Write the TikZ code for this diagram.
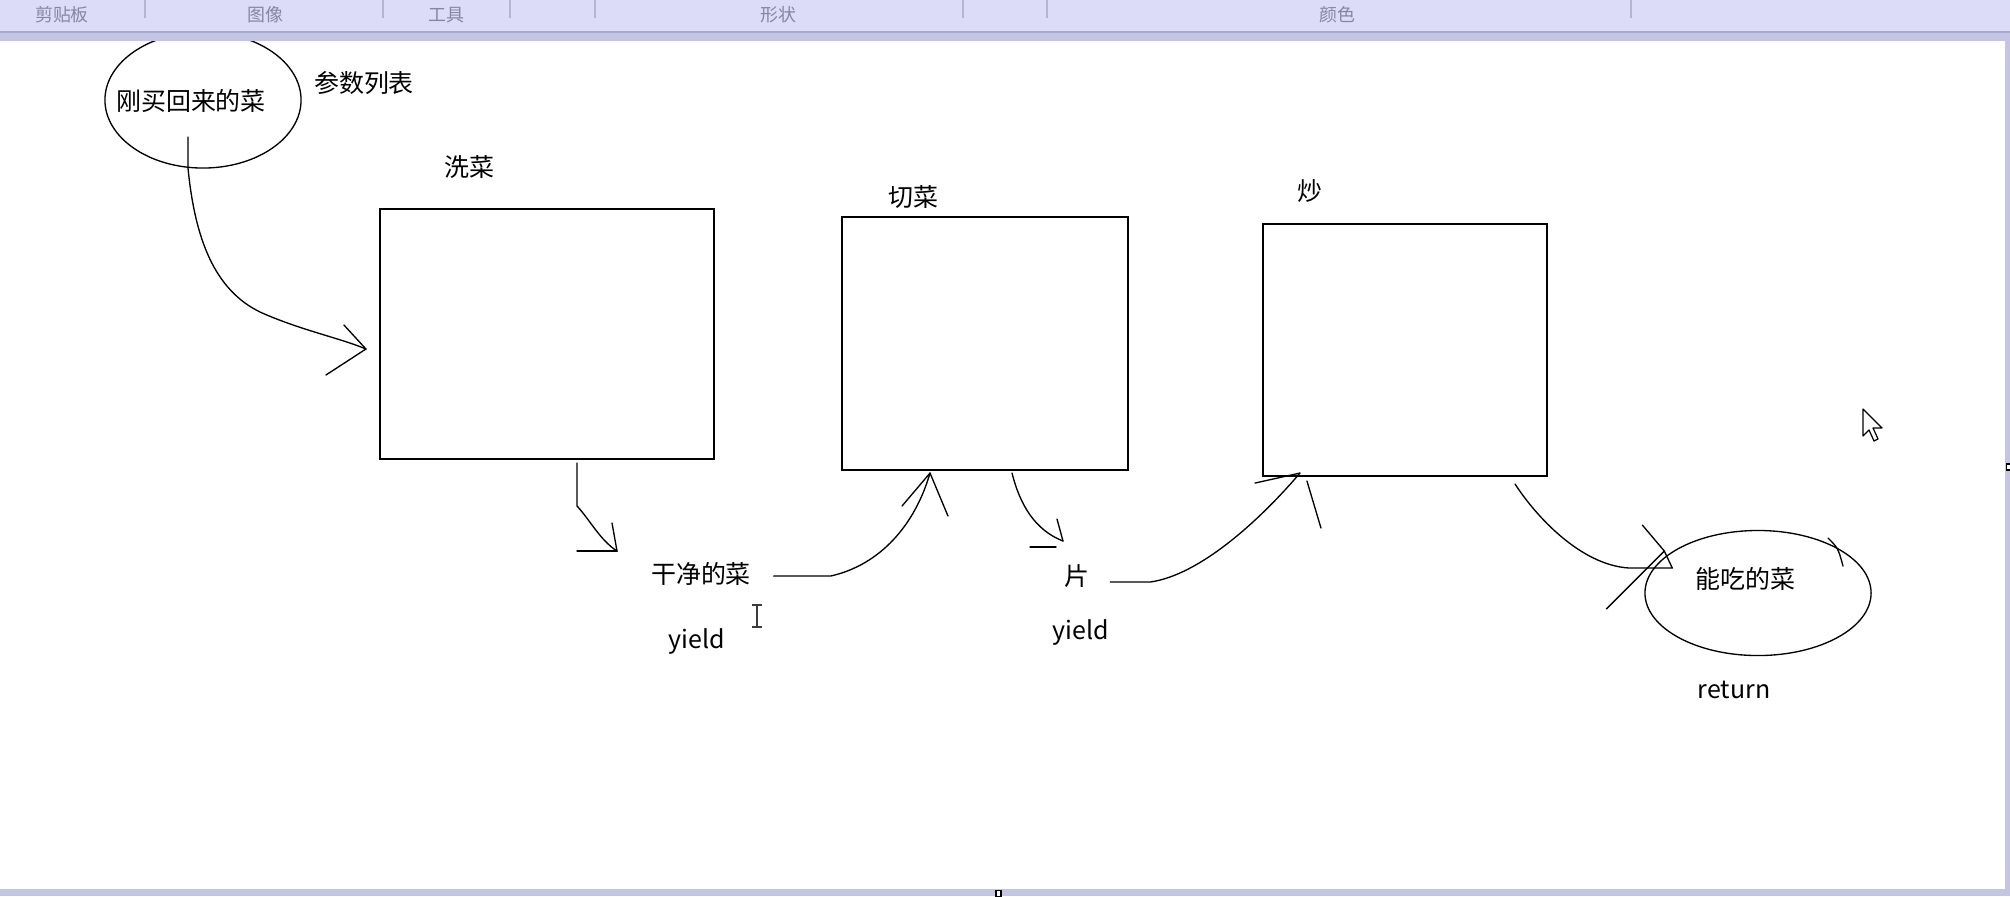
\documentclass[tikz,border=0pt]{standalone}
\usepackage{fontspec}
\newfontfamily\cjk{Noto Sans CJK SC}
\usetikzlibrary{calc,shapes.geometric}

\definecolor{barlight}{HTML}{DCDCF8}
\definecolor{bardark}{HTML}{A8A8D0}
\definecolor{barmid}{HTML}{C4C4E4}
\definecolor{barsep}{HTML}{B4B4D4}
\definecolor{bartext}{HTML}{8686A0}
\definecolor{inkgray}{HTML}{3C3C3C}

\tikzset{
	lbl/.style={inner sep=0pt, font=\cjk\fontsize{7.1pt}{8pt}\selectfont},
	toollbl/.style={inner sep=0pt, text=bartext, font=\cjk\fontsize{5.1pt}{6pt}\selectfont},
	procbox/.style 2 args={draw, line width=0.55pt, minimum width=#1, minimum height=#2, inner sep=0pt},
	blob/.style 2 args={draw, ellipse, line width=0.38pt, minimum width=#1, minimum height=#2, inner sep=0pt},
	hand/.style={line width=0.38pt, line cap=round, line join=round}
}

\begin{document}
\begin{tikzpicture}[x=0.01cm, y=-0.01cm]

	%one unit is one pixel of the screenshot, y runs downwards
	\useasboundingbox (0,0) rectangle (2010,896);
	\fill [white] (0,0) rectangle (2010,896);

	%raw vegetables, upper left
	\node [blob={1.96cm}{1.36cm}] (raw) at (203,100) {};
	\node [lbl] (rawtxt) at (191,101) {刚买回来的菜};
	\node [lbl] (params) at (364,83) {参数列表};

	%the three steps
	\node [procbox={3.34cm}{2.50cm}] (wash) at (547,334) {};
	\node [procbox={2.86cm}{2.53cm}] (cut) at (985,343.5) {};
	\node [procbox={2.84cm}{2.52cm}] (fry) at (1405,350) {};

	\node [lbl] (washlbl) at (469,167) {洗菜};
	\node [lbl] (cutlbl) at (913,197) {切菜};
	\node [lbl] (frylbl) at (1310,191) {炒};

	%what comes out of each step
	\node [lbl] (clean) at (701,574) {干净的菜};
	\node [lbl] (yieldA) at (697,641) {yield};
	\node [lbl] (slice) at (1077,576) {片};
	\node [lbl] (yieldB) at (1081,632) {yield};
	\node [blob={2.26cm}{1.25cm}] (done) at (1758,593) {};
	\node [lbl] (donetxt) at (1745,579) {能吃的菜};
	\node [lbl] (ret) at (1734,690) {return};
	\draw [hand] (1828,538) .. controls (1838,548) .. (1843,566);

	%arrow tips
	\coordinate (tA) at ($(wash.west)+(-13,15)$);
	\coordinate (tB) at ($(wash.south)+(70,91)$);
	\coordinate (tC) at ($(cut.south)+(-55,2)$);
	\coordinate (tD) at ($(cut.south)+(78,70)$);
	\coordinate (tE) at ($(fry.south west)+(38,-4)$);
	\coordinate (tF) at ($(done.west)+(20,-42)$);

	%raw -> wash
	\draw [hand] ($(raw.center)+(-15,37)$) -- (188,168)
		.. controls (195,240) and (215,290) .. (260,312)
		.. controls (300,330) and (340,338) .. (tA);
	\draw [hand] (tA) -- ++(-22,-24);
	\draw [hand] (tA) -- ++(-40,26);

	%wash -> clean
	\draw [hand] ($(wash.south)+(30,3)$) -- ++(0,43)
		.. controls (590,520) and (600,540) .. (tB);
	\draw [hand] (tB) -- ++(-5,-28);
	\draw [hand] (tB) -- ++(-40,0);

	%clean -> cut
	\draw [hand] ($(clean.east)+(22,2)$) -- ++(57,0)
		.. controls (880,565) and (915,525) .. (tC);
	\draw [hand] (tC) -- ++(-28,33);
	\draw [hand] (tC) -- ++(18,43);

	%cut -> slice
	\draw [hand] ($(cut.south)+(27,2)$)
		.. controls (1020,505) and (1035,530) .. (tD);
	\draw [hand] (tD) -- ++(-6,-22);
	\draw [hand] ($(tD)+(-7,6)$) -- ++(-26,0);

	%slice -> fry
	\draw [hand] ($(slice.east)+(20,6)$) -- ++(40,0)
		.. controls (1200,575) and (1260,520) .. (tE);
	\draw [hand] (tE) -- ++(-45,10);
	\draw [hand] ($(tE)+(7,8)$) -- ++(14,47);

	%fry -> done
	\draw [hand] ($(fry.south east)+(-33,7)$)
		.. controls (1535,515) and (1580,565) .. (1629,568) -- ($(tF)+(8,17)$);
	\draw [hand] ($(tF)+(-22,-26)$) -- (tF) -- ++(8,17);
	\draw [hand] (tF) -- ++(-58,58);

	%text cursor and mouse pointer
	\draw [inkgray, line width=0.4pt] (757,605) -- (757,627);
	\draw [inkgray, line width=0.4pt] (752,605) -- (762,605) (752,627) -- (762,627);
	\draw [fill=white, line width=0.35pt, line join=round]
		(1863,409) -- (1863,436) -- (1869,430) -- (1874,441) -- (1878,439)
		-- (1873,428) -- (1882,428) -- cycle;

	%toolbar on top
	\fill [barlight] (0,0) rectangle (2010,31);
	\fill [bardark] (0,31) rectangle (2010,33);
	\fill [barmid] (0,33) rectangle (2010,41);
	\foreach \sx in {145,383,510,595,963,1047,1631}
	{
		\draw [barsep, line width=0.4pt] (\sx,0) -- (\sx,18);
	}
	\foreach \toolname/\tx in {剪贴板/62, 图像/265, 工具/446, 形状/778, 颜色/1337}
	{
		\node [toollbl] (tool\tx) at (\tx,15) {\toolname};
	}

	%window frame, right and bottom
	\fill [barmid] (2005,41) rectangle (2010,896);
	\fill [barmid] (0,889) rectangle (2010,896);
	\draw [fill=white, line width=0.3pt] (996,890) rectangle (1001,896);
	\draw [fill=white, line width=0.3pt] (2006,464) rectangle (2010,470);

\end{tikzpicture}
\end{document}
